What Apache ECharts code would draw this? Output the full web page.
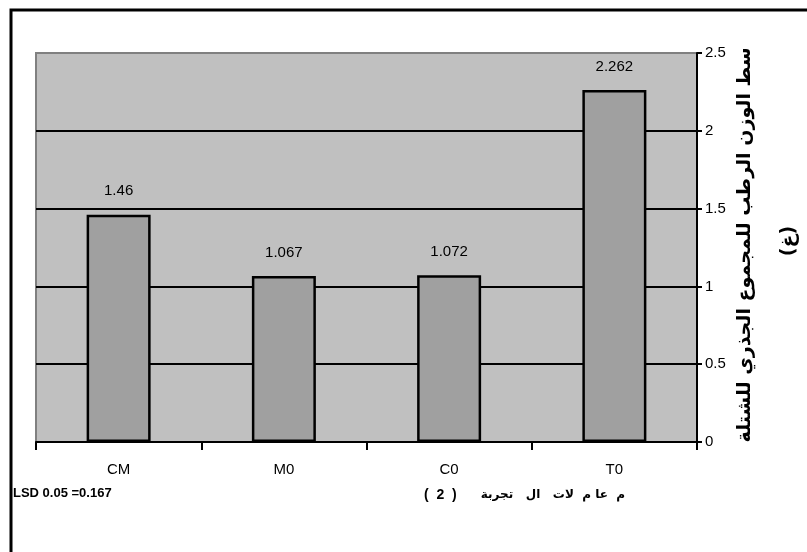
<!DOCTYPE html>
<html>
<head>
<meta charset="utf-8">
<script src="https://cdn.jsdelivr.net/npm/echarts@6/dist/echarts.min.js"></script>
<style>
  html, body { margin: 0; padding: 0; background: #fff; }
  #chart { width: 807px; height: 552px; }
</style>
</head>
<body>
<div id="chart"></div>
<script>
// Treatments and root fresh weight per seedling (g)
const categories = ['CM', 'M0', 'C0', 'T0'];
const values = [1.46, 1.067, 1.072, 2.262];
const valueLabels = ['1.46', '1.067', '1.072', '2.262'];

const yTitle = 'سط الوزن الرطب للمجموع الجذري للشتلة';
const yUnit = '(غ)';
const lsdText = 'LSD 0.05 =0.167';
const xTitleArabic = 'م  عا م  لات   ال   تجربة';
const xTitleNum = '(  2  )';

const baseFont = 'Liberation Sans, Arial, sans-serif';

const chart = echarts.init(document.getElementById('chart'), null, { renderer: 'canvas' });

chart.setOption({
  animation: false,
  backgroundColor: '#ffffff',
  grid: {
    left: 36, top: 53, right: 110, bottom: 110,
    show: true,
    backgroundColor: '#c0c0c0',
    borderColor: '#808080',
    borderWidth: 2
  },
  xAxis: {
    type: 'category',
    data: categories,
    axisLine: { show: true, lineStyle: { color: '#000', width: 2 } },
    axisTick: { show: true, alignWithLabel: false, length: 8, lineStyle: { color: '#000', width: 2 } },
    axisLabel: { color: '#000', fontSize: 15, fontFamily: baseFont, margin: 20 },
    splitLine: { show: false }
  },
  yAxis: {
    type: 'value',
    position: 'right',
    min: 0, max: 2.5, interval: 0.5,
    axisLine: { show: true, lineStyle: { color: '#000', width: 2 } },
    axisTick: { show: true, length: 5, lineStyle: { color: '#000', width: 2 } },
    axisLabel: { color: '#000', fontSize: 15, fontFamily: baseFont, margin: 8 },
    splitLine: { show: true, showMaxLine: false, lineStyle: { color: '#000', width: 2 } }
  },
  series: [{
    type: 'bar',
    data: values,
    barWidth: 64,
    itemStyle: { color: '#a0a0a0', borderColor: '#000', borderWidth: 2.5 },
    label: {
      show: true,
      position: 'top',
      distance: 16,
      color: '#000',
      fontSize: 15,
      fontFamily: baseFont,
      formatter: p => valueLabels[p.dataIndex]
    }
  }],
  graphic: [
    {
      type: 'rect',
      shape: { x: 11, y: 10, width: 1000, height: 800 },
      style: { fill: 'none', stroke: '#000', lineWidth: 3 },
      silent: true
    },
    {
      type: 'text',
      x: 745, y: 245,
      rotation: Math.PI / 2,
      style: {
        text: yTitle,
        fill: '#000',
        font: 'bold 19px "DejaVu Sans", sans-serif',
        textAlign: 'center',
        textVerticalAlign: 'middle'
      }
    },
    {
      type: 'text',
      x: 789, y: 241,
      rotation: Math.PI / 2,
      style: {
        text: yUnit,
        fill: '#000',
        font: 'bold 19px "DejaVu Sans", sans-serif',
        textAlign: 'center',
        textVerticalAlign: 'middle'
      }
    },
    {
      type: 'text',
      left: 13, top: 487,
      style: {
        text: lsdText,
        fill: '#000',
        font: 'bold 13px "Liberation Sans", Arial, sans-serif'
      }
    },
    {
      type: 'text',
      x: 424, y: 495,
      style: {
        text: xTitleNum,
        fill: '#000',
        font: 'bold 14px "Liberation Sans", Arial, sans-serif',
        textAlign: 'left',
        textVerticalAlign: 'middle'
      }
    },
    {
      type: 'text',
      x: 625, y: 495,
      style: {
        text: xTitleArabic,
        fill: '#000',
        font: 'bold 12px "DejaVu Sans", sans-serif',
        textAlign: 'right',
        textVerticalAlign: 'middle'
      }
    }
  ]
});
</script>
</body>
</html>
